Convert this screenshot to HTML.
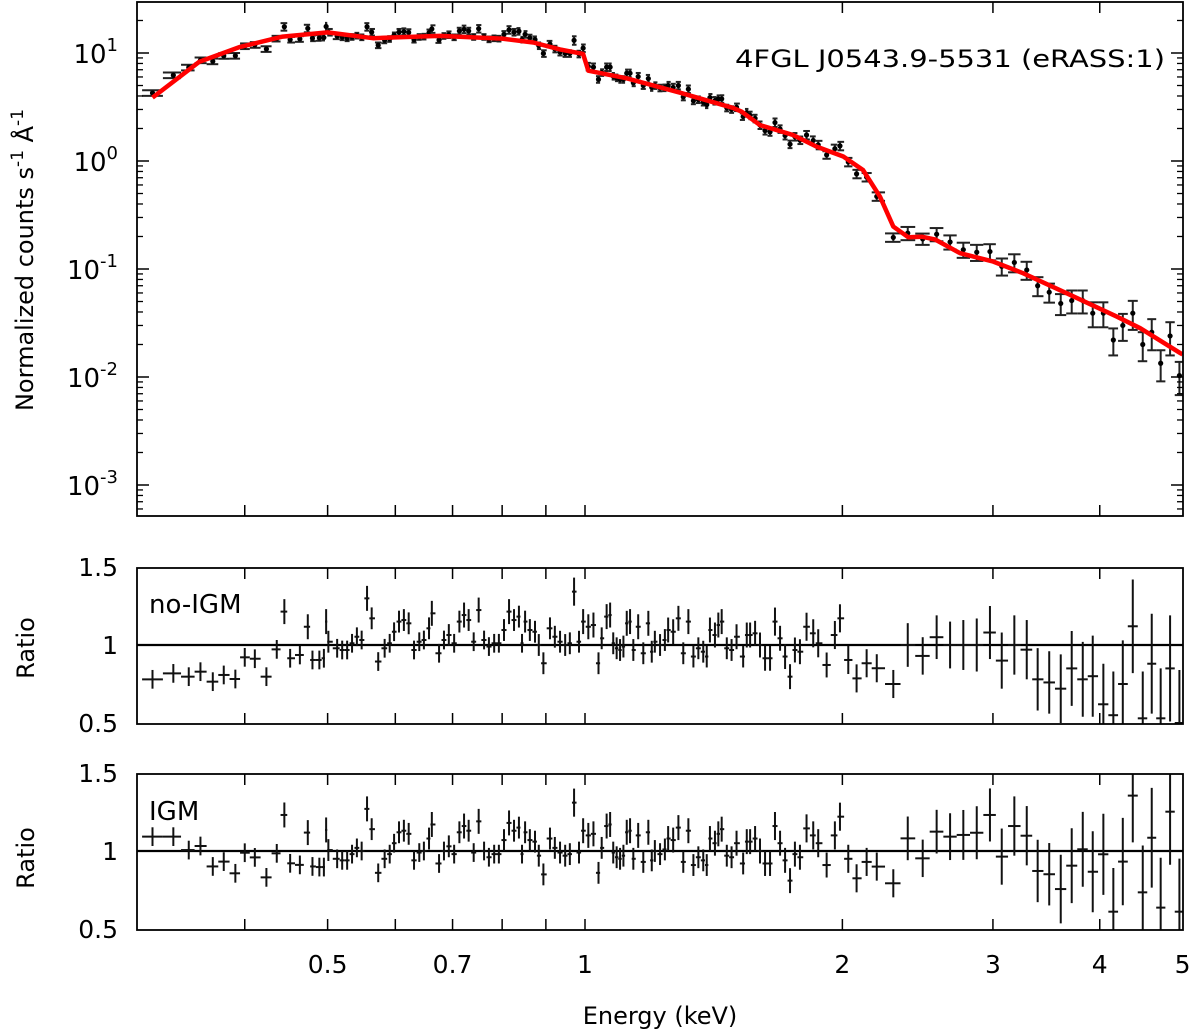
<!DOCTYPE html>
<html><head><meta charset="utf-8">
<style>
html,body{margin:0;padding:0;background:#fff;}
svg{display:block;font-family:"DejaVu Sans","Liberation Sans",sans-serif;}
</style></head>
<body>
<svg id="chart" width="1200" height="1031" viewBox="0 0 1200 1031" xmlns="http://www.w3.org/2000/svg">
<defs>
<clipPath id="clipTop"><rect x="137" y="2" width="1046" height="514"/></clipPath>
<clipPath id="clipMid"><rect x="137" y="568" width="1046" height="156"/></clipPath>
<clipPath id="clipBot"><rect x="137" y="774" width="1046" height="156"/></clipPath>
</defs>
<g id="gTop"></g>
<g id="gMid"></g>
<g id="gBot"></g>
<g id="gAxes"></g>
<text x="1165" y="67" font-size="24" text-anchor="end" textLength="430" lengthAdjust="spacingAndGlyphs">4FGL J0543.9-5531 (eRASS:1)</text>
<text x="149" y="613" font-size="26">no-IGM</text>
<text x="149" y="820" font-size="26">IGM</text>
<text transform="translate(33,260) rotate(-90)" font-size="24" text-anchor="middle">Normalized counts s<tspan dy="-10" font-size="17">-1</tspan><tspan dy="10"> Å</tspan><tspan dy="-10" font-size="17">-1</tspan></text>
<text transform="translate(34,648) rotate(-90)" font-size="24" text-anchor="middle">Ratio</text>
<text transform="translate(34,858) rotate(-90)" font-size="24" text-anchor="middle">Ratio</text>
<text x="660" y="1024" font-size="24" text-anchor="middle">Energy (keV)</text>
</svg>
<script>
// ---- data ----
const energy = [0.312,0.330,0.344,0.355,0.367,0.378,0.390,0.400,0.411,0.424,0.436,0.445,0.452,0.464,0.474,0.480,0.489,0.495,0.498,0.501,
0.513,0.520,0.527,0.534,0.541,0.548,0.556,0.563,0.573,0.583,0.591,0.598,0.606,0.614,0.622,0.631,0.640,0.648,0.657,0.662,
0.675,0.684,0.693,0.703,0.713,0.722,0.731,0.741,0.751,0.762,0.772,0.783,0.793,0.804,0.815,0.826,0.837,0.844,0.851,0.862,
0.874,0.883,0.894,0.910,0.922,0.935,0.948,0.960,0.971,0.984,
0.995,1.009,1.023,1.037,1.046,1.060,1.070,1.079,1.089,1.099,1.109,1.119,1.129,1.139,1.154,1.170,1.186,1.197,1.207,1.224,
1.240,1.251,1.268,1.286,1.303,1.321,1.339,1.357,1.375,1.388,1.400,1.419,1.432,1.445,1.465,1.484,1.504,1.531,1.546,1.560,
1.581,1.602,1.624,1.646,1.668,1.691,1.714,1.737,1.760,1.784,1.816,1.849,1.874,1.917,1.960,1.987,2.032,2.078,2.135,2.194,
2.294,2.385,2.483,2.578,2.673,2.770,2.872,2.976,3.072,3.178,3.286,3.384,3.491,3.601,3.709,3.821,3.925,4.039,4.149,4.256,
4.372,4.491,4.601,4.713,4.834,4.957];
const flux = [4.26,6.22,7.34,8.57,8.38,9.41,9.43,11.57,11.89,10.89,13.6,17.5,13.3,13.5,16.9,13.7,13.8,13.9,17.6,15.6,
14.3,14.0,13.7,14.1,14.5,14.0,17.5,15.6,11.8,13.1,13.5,14.6,15.6,15.8,15.5,13.3,14.1,14.2,15.4,16.7,
13.2,14.4,14.8,14.0,16.0,16.6,16.0,14.1,16.8,14.1,13.4,13.7,13.6,14.9,16.4,15.6,15.9,13.3,14.9,13.8,
13.3,11.7,9.9,12.1,10.9,10.2,9.9,9.9,13.1,9.8,
11.1,7.5,7.4,5.7,6.6,7.4,7.4,6.1,5.9,5.7,5.7,6.5,6.5,5.3,6.05,5.0,5.8,4.8,5.0,4.75,
4.77,5.0,4.8,5.0,3.92,4.63,3.61,3.70,3.51,3.32,3.86,3.62,3.75,3.76,3.10,3.0,3.15,2.58,2.81,2.65,
2.48,2.15,1.91,1.86,2.27,1.98,1.72,1.43,1.68,1.56,1.74,1.55,1.41,1.14,1.30,1.38,0.98,0.76,0.71,0.47,
0.196,0.215,0.190,0.210,0.178,0.151,0.143,0.145,0.106,0.115,0.098,0.070,0.061,0.048,0.051,0.051,0.039,0.039,0.022,0.030,
0.039,0.020,0.026,0.0134,0.024,0.0103];
const ratioNoIGM = [0.780,0.818,0.797,0.829,0.765,0.808,0.782,0.921,0.912,0.797,0.972,1.214,0.915,0.936,1.117,0.904,0.904,0.915,1.150,1.021,
0.979,0.968,0.968,1.011,1.053,1.032,1.299,1.171,0.894,0.979,1.011,1.085,1.150,1.160,1.139,0.968,1.021,1.032,1.107,1.203,
0.947,1.032,1.064,1.011,1.150,1.192,1.160,1.021,1.224,1.032,0.990,1.011,1.011,1.096,1.214,1.160,1.182,1.011,1.150,1.096,
1.085,1.000,0.883,1.107,1.053,1.021,1.000,1.011,1.342,1.021,
1.150,1.117,1.128,0.883,1.043,1.182,1.192,1.011,0.979,0.968,0.990,1.139,1.150,0.968,1.117,0.947,1.139,0.957,1.021,1.000,
1.032,1.096,1.085,1.171,0.947,1.150,0.926,0.979,0.957,0.926,1.096,1.064,1.128,1.150,0.979,0.968,1.053,0.926,1.064,1.064,
1.075,1.000,0.915,0.915,1.150,1.043,0.926,0.797,0.968,0.957,1.117,1.075,1.011,0.872,1.064,1.171,0.904,0.786,0.883,0.851,
0.75,1.0,0.93,1.05,1.0,1.0,1.0,1.08,0.9,1.0,0.97,0.78,0.76,0.72,0.85,0.78,0.8,0.62,0.55,0.75,
1.12,0.53,0.88,0.53,0.85,0.5];
const ratioIGM = [1.092,1.092,1.006,1.032,0.901,0.932,0.857,0.989,0.959,0.831,0.985,1.231,0.921,0.911,1.118,0.901,0.897,0.897,1.135,1.006,
0.95,0.94,0.94,0.98,1.02,1.0,1.27,1.14,0.86,0.95,0.98,1.05,1.12,1.13,1.11,0.94,0.99,1.0,1.08,1.17,
0.92,1.0,1.03,0.98,1.12,1.16,1.13,0.99,1.19,1.0,0.96,0.98,0.98,1.07,1.18,1.13,1.15,0.98,1.12,1.07,
1.06,0.97,0.85,1.08,1.02,0.99,0.97,0.98,1.31,0.99,
1.13,1.10,1.11,0.86,1.02,1.16,1.17,0.99,0.96,0.95,0.97,1.12,1.13,0.95,1.10,0.93,1.12,0.94,1.0,0.98,
1.01,1.08,1.07,1.15,0.93,1.13,0.91,0.96,0.94,0.91,1.08,1.05,1.11,1.14,0.97,0.96,1.05,0.92,1.06,1.06,
1.08,1.0,0.92,0.92,1.16,1.05,0.94,0.81,0.98,0.96,1.145,1.10,1.05,0.91,1.10,1.22,0.95,0.825,0.93,0.90,
0.793,1.081,0.953,1.124,1.092,1.103,1.117,1.231,0.964,1.160,1.098,0.872,0.851,0.756,0.906,1.011,0.867,0.979,0.611,0.932,
1.355,0.735,1.085,0.637,1.252,0.611];
const ratioErr = [0.06,0.06,0.06,0.06,0.06,0.06,0.06,0.06,0.06,0.06,0.06,0.08,0.06,0.06,0.08,0.06,0.06,0.06,0.08,0.07,
0.06,0.06,0.06,0.06,0.06,0.06,0.08,0.07,0.06,0.06,0.06,0.06,0.07,0.07,0.07,0.06,0.06,0.06,0.07,0.08,
0.06,0.06,0.07,0.06,0.07,0.08,0.07,0.06,0.08,0.06,0.06,0.06,0.06,0.07,0.08,0.07,0.07,0.06,0.07,0.07,
0.07,0.07,0.07,0.07,0.07,0.07,0.07,0.07,0.09,0.07,
0.08,0.08,0.08,0.07,0.07,0.08,0.08,0.07,0.07,0.07,0.07,0.08,0.08,0.07,0.08,0.07,0.08,0.07,0.07,0.07,
0.07,0.08,0.08,0.08,0.07,0.08,0.07,0.07,0.07,0.07,0.08,0.08,0.08,0.08,0.07,0.07,0.08,0.07,0.08,0.08,
0.08,0.08,0.08,0.08,0.09,0.08,0.08,0.08,0.08,0.08,0.09,0.09,0.09,0.08,0.09,0.09,0.09,0.09,0.09,0.09,
0.09,0.14,0.12,0.14,0.15,0.16,0.17,0.17,0.18,0.19,0.19,0.2,0.2,0.22,0.24,0.24,0.26,0.26,0.28,0.28,
0.3,0.3,0.32,0.32,0.34,0.34];
const modelE = [0.312,0.354,0.395,0.443,0.500,0.565,0.676,0.800,0.870,0.935,0.995,1.009,1.119,1.292,1.49,1.525,1.602,1.751,1.866,2.005,2.114,2.213,2.294,2.388,2.477,2.566,2.746,3.003,3.256,3.66,4.19,4.46,4.97,5.0];
const modelV = [3.86,8.3,11.4,14.2,15.5,13.7,14.4,13.6,12.5,10.8,9.8,6.85,5.83,4.29,3.10,2.86,2.15,1.74,1.36,1.10,0.826,0.467,0.247,0.197,0.199,0.188,0.140,0.117,0.0913,0.0596,0.0362,0.0283,0.0166,0.0162];
const xTickVals = [0.5,0.7,1,2,3,4,5];
const xTickLabels = ["0.5","0.7","1","2","3","4","5"];
const xMinorVals = [0.3,0.4,0.6,0.8,0.9];
const yDecades = [1,0,-1,-2,-3];
const ratioTicks = [1.5,1,0.5];
const ratioTickLabels = ["1.5","1","0.5"];

// ---- scales ----
const L=137,R=1183;
function xs(E){return 585+855*Math.log10(E);}
function yTop(v){return 53+(1-Math.log10(v))*108;}
function yMid(r){return 645-(r-1)*156;}
function yBot(r){return 851-(r-1)*156;}
const NS="http://www.w3.org/2000/svg";
function mk(tag,attrs,parent){const e=document.createElementNS(NS,tag);for(const k in attrs)e.setAttribute(k,attrs[k]);parent.appendChild(e);return e;}

const gTop=document.getElementById('gTop'),gMid=document.getElementById('gMid'),gBot=document.getElementById('gBot'),gAx=document.getElementById('gAxes');
const cTop=mk('g',{'clip-path':'url(#clipTop)'},gTop);
const cMid=mk('g',{'clip-path':'url(#clipMid)'},gMid);
const cBot=mk('g',{'clip-path':'url(#clipBot)'},gBot);

function halfW(i){
  const x=xs(energy[i]);
  const xl=i>0?xs(energy[i-1]):x-(xs(energy[i+1])-x);
  const xr=i<energy.length-1?xs(energy[i+1]):x+(x-xl);
  return [ (x-xl)/2, (xr-x)/2 ];
}

// spectrum points
for(let i=0;i<energy.length;i++){
  const x=xs(energy[i]),f=flux[i],e=ratioErr[i];
  const y=yTop(f),y1=yTop(f*(1+e)),y2=yTop(Math.max(f*(1-e),1e-4));
  const [hl,hr]=halfW(i);
  const g=mk('g',{},cTop);
  
  
  mk('line',{x1:x,x2:x,y1:y1,y2:y2,stroke:'#222','stroke-width':2},g);
  mk('line',{x1:x-hl,x2:x+hr,y1:y1,y2:y1,stroke:'#222','stroke-width':2},g);
  mk('line',{x1:x-hl,x2:x+hr,y1:y2,y2:y2,stroke:'#222','stroke-width':2},g);
  mk('circle',{cx:x,cy:y,r:2.6,fill:'#000'},g);
}
// model line
let d='';
for(let i=0;i<modelE.length;i++){d+=(i?'L':'M')+xs(modelE[i]).toFixed(1)+','+yTop(modelV[i]).toFixed(1);}
const ml=mk('path',{d:d,fill:'none',stroke:'#f00','stroke-width':4.5,'stroke-linejoin':'round'},cTop);



// ratio panels
function ratios(arr,ysc,parent,name){
  mk('line',{x1:L,x2:R,y1:ysc(1),y2:ysc(1),stroke:'#000','stroke-width':2.2},parent);
  for(let i=0;i<energy.length;i++){
    const x=xs(energy[i]),r=arr[i],e=ratioErr[i];
    const [hl,hr]=halfW(i);
    const g=mk('g',{},parent);
    
    
    mk('line',{x1:x,x2:x,y1:ysc(r+e),y2:ysc(r-e),stroke:'#111','stroke-width':2},g);
    mk('line',{x1:x-hl,x2:x+hr,y1:ysc(r),y2:ysc(r),stroke:'#111','stroke-width':2},g);
  }
}
ratios(ratioNoIGM,yMid,cMid,'no-igm-ratio-point');
ratios(ratioIGM,yBot,cBot,'igm-ratio-point');

// frames
const frames=[[2,516],[568,724],[774,930]];
frames.forEach((f,k)=>{
  const r=mk('rect',{x:L,y:f[0],width:R-L,height:f[1]-f[0],fill:'none',stroke:'#000','stroke-width':1.8},gAx);
  
  
  xTickVals.concat(xMinorVals).forEach(v=>{
    const x=xs(v); if(x<L+1||x>R-1)return;
    mk('line',{x1:x,x2:x,y1:f[0],y2:f[0]+11,stroke:'#000','stroke-width':1.5},gAx);
    mk('line',{x1:x,x2:x,y1:f[1],y2:f[1]-11,stroke:'#000','stroke-width':1.5},gAx);
  });
});
// top y ticks
yDecades.forEach(p=>{
  const y=yTop(Math.pow(10,p));
  mk('line',{x1:L,x2:L+12,y1:y,y2:y,stroke:'#000','stroke-width':1.5},gAx);
  mk('line',{x1:R,x2:R-12,y1:y,y2:y,stroke:'#000','stroke-width':1.5},gAx);
  const t=mk('text',{x:118,y:y+10,'font-size':26,'text-anchor':'end'},gAx);
  
  
  t.textContent='10';
  const s=mk('tspan',{dy:-12,'font-size':18},t); s.textContent=String(p);
});
for(let p=-4;p<=1;p++){for(let m=2;m<=9;m++){
  const y=yTop(m*Math.pow(10,p)); if(y<3||y>515)continue;
  mk('line',{x1:L,x2:L+6,y1:y,y2:y,stroke:'#000','stroke-width':1.3},gAx);
  mk('line',{x1:R,x2:R-6,y1:y,y2:y,stroke:'#000','stroke-width':1.3},gAx);
}}
// ratio y labels
[yMid,yBot].forEach(ys=>{
  ratioTicks.forEach((v,i)=>{
    const t=mk('text',{x:118,y:ys(v)+9,'font-size':25,'text-anchor':'end'},gAx);
    
    
    t.textContent=ratioTickLabels[i];
  });
});
// x labels
xTickVals.forEach((v,i)=>{
  const t=mk('text',{x:xs(v),y:973,'font-size':25,'text-anchor':'middle'},gAx);
  
  
  t.textContent=xTickLabels[i];
});
</script>
</body></html>
